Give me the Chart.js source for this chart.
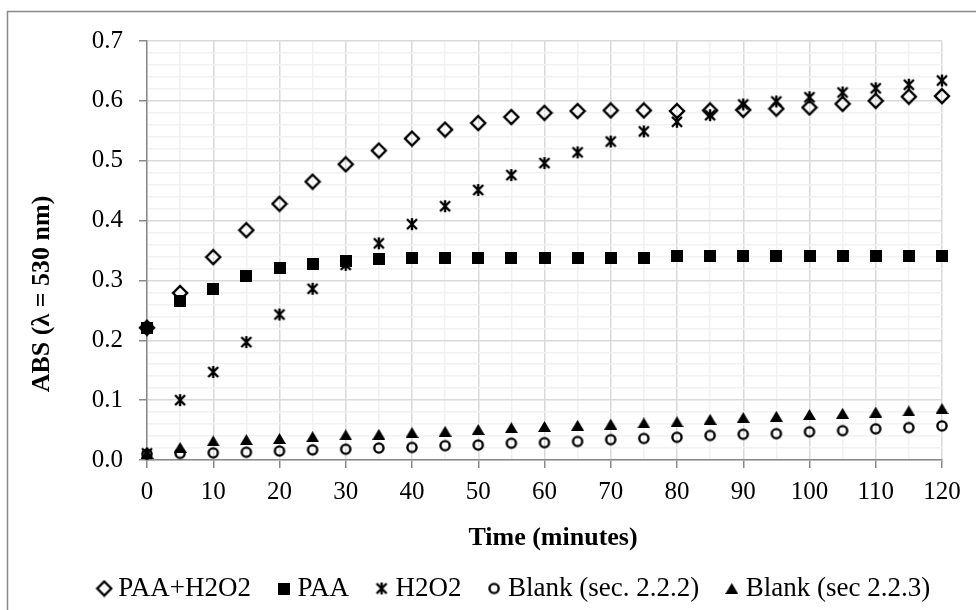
<!DOCTYPE html>
<html>
<head>
<meta charset="utf-8">
<style>
  html, body { margin: 0; padding: 0; background: #fff; }
  #wrap { width: 976px; height: 610px; }
</style>
</head>
<body>
<div id="wrap"><canvas id="chart" width="976" height="610"></canvas></div>
<script src="https://cdn.jsdelivr.net/npm/chart.js@4.4.1/dist/chart.umd.min.js"></script>
<script>
// absorbance readings every 5 minutes
const minutes = [0, 5, 10, 15, 20, 25, 30, 35, 40, 45, 50, 55, 60, 65, 70, 75, 80, 85, 90, 95, 100, 105, 110, 115, 120];

const paaH2o2 = [0.221, 0.279, 0.339, 0.384, 0.428, 0.465, 0.494, 0.517, 0.537, 0.552, 0.563, 0.573, 0.580,
  0.583, 0.584, 0.584, 0.583, 0.584, 0.585, 0.587, 0.589, 0.595, 0.600, 0.607, 0.608];
const paa = [0.221, 0.266, 0.286, 0.307, 0.320, 0.328, 0.333, 0.335, 0.337, 0.337, 0.337, 0.338, 0.338,
  0.338, 0.338, 0.338, 0.340, 0.340, 0.340, 0.340, 0.340, 0.340, 0.340, 0.340, 0.340];
const h2o2 = [0.011, 0.100, 0.147, 0.197, 0.243, 0.286, 0.326, 0.362, 0.394, 0.424, 0.451, 0.476, 0.496,
  0.514, 0.532, 0.549, 0.565, 0.576, 0.594, 0.599, 0.606, 0.614, 0.621, 0.627, 0.634];
const blank222 = [0.010, 0.011, 0.012, 0.013, 0.015, 0.017, 0.018, 0.020, 0.021, 0.024, 0.025, 0.028, 0.029,
  0.031, 0.034, 0.036, 0.038, 0.041, 0.043, 0.044, 0.047, 0.049, 0.052, 0.054, 0.057];
const blank223 = [0.011, 0.021, 0.032, 0.034, 0.036, 0.039, 0.042, 0.043, 0.046, 0.048, 0.051, 0.054, 0.056,
  0.058, 0.060, 0.062, 0.064, 0.068, 0.071, 0.073, 0.076, 0.078, 0.080, 0.082, 0.086];

const seriesNames = ['PAA+H2O2', 'PAA', 'H2O2', 'Blank (sec. 2.2.2)', 'Blank (sec 2.2.3)'];
const xTicks = [0, 10, 20, 30, 40, 50, 60, 70, 80, 90, 100, 110, 120];
const yTicks = [0.0, 0.1, 0.2, 0.3, 0.4, 0.5, 0.6, 0.7];

const FONT = '"Liberation Serif", "Times New Roman", serif';
Chart.defaults.font.family = FONT;
Chart.defaults.color = '#000';

// little canvases used as point styles, so the markers look like the office-style ones
function marker(w, h, draw) {
  const c = document.createElement('canvas');
  c.width = w; c.height = h;
  const g = c.getContext('2d');
  g.strokeStyle = '#000';
  g.fillStyle = '#000';
  draw(g, w / 2, h / 2);
  return c;
}

const diamond = marker(18, 18, (g, cx, cy) => {
  g.lineWidth = 2.4;
  g.beginPath();
  g.moveTo(cx, cy - 7); g.lineTo(cx + 7, cy); g.lineTo(cx, cy + 7); g.lineTo(cx - 7, cy);
  g.closePath();
  g.stroke();
});
const square = marker(12, 12, (g) => g.fillRect(0, 0, 12, 12));
const star = marker(14, 14, (g, cx, cy) => {
  g.lineWidth = 2.4;
  g.beginPath();
  g.moveTo(cx - 5, cy - 5); g.lineTo(cx + 5, cy + 5);
  g.moveTo(cx + 5, cy - 5); g.lineTo(cx - 5, cy + 5);
  g.moveTo(cx, cy - 6); g.lineTo(cx, cy + 6);
  g.stroke();
});
const circle = marker(14, 14, (g, cx, cy) => {
  g.lineWidth = 2.4;
  g.beginPath();
  g.arc(cx, cy, 4.6, 0, Math.PI * 2);
  g.stroke();
});
const triangle = marker(13, 11, (g) => {
  g.beginPath();
  g.moveTo(6.5, 0); g.lineTo(13, 11); g.lineTo(0, 11);
  g.closePath();
  g.fill();
});

const seriesValues = [paaH2o2, paa, h2o2, blank222, blank223];
const seriesMarkers = [diamond, square, star, circle, triangle];

const isMajorX = (v) => xTicks.includes(Math.round(v));
const isMajorY = (v) => yTicks.some((t) => Math.abs(t - v) < 1e-6);

// outer frame + white background
const frame = {
  id: 'frame',
  beforeDraw(chart) {
    const g = chart.ctx;
    g.save();
    g.fillStyle = '#fff';
    g.fillRect(0, 0, chart.width, chart.height);
    g.strokeStyle = '#898989';
    g.lineWidth = 1.5;
    g.strokeRect(7.5, 11.5, chart.width + 20, chart.height + 20);
    g.restore();
  }
};

// axis titles drawn by hand so they sit where they should
const axisTitles = {
  id: 'axisTitles',
  afterDraw(chart) {
    const g = chart.ctx;
    g.save();
    g.fillStyle = '#000';
    g.font = 'bold 26px ' + FONT;
    g.textAlign = 'center';
    g.textBaseline = 'middle';
    g.fillText('Time (minutes)', 553, 538);
    g.translate(42, 294);
    g.rotate(-Math.PI / 2);
    g.fillText('ABS (\u03bb = 530 nm)', 0, 0);
    g.restore();
  }
};

// push the legend row down under the x title and nudge it sideways
const legendPlace = {
  id: 'legendPlace',
  afterLayout(chart) {
    const lg = chart.legend;
    const dx = 517 - (lg.left + lg.right) / 2;
    lg.left += dx; lg.right += dx;
    const dy = 543 - lg.top;
    lg.top += dy; lg.bottom += dy;
  }
};

new Chart(document.getElementById('chart'), {
  type: 'scatter',
  data: {
    datasets: seriesNames.map((name, i) => ({
      label: name,
      data: minutes.map((t, k) => ({ x: t, y: seriesValues[i][k] })),
      pointStyle: seriesMarkers[i],
      pointRadius: 7,
      pointHoverRadius: 7,
      showLine: false,
      clip: false,
      order: -i
    }))
  },
  options: {
    responsive: false,
    animation: false,
    devicePixelRatio: 1,
    layout: { padding: { left: 8, right: 34, top: 41, bottom: 31 } },
    plugins: {
      tooltip: { enabled: false },
      legend: {
        position: 'bottom',
        labels: {
          usePointStyle: true,
          boxWidth: 1,
          boxHeight: 12,
          padding: 32,
          color: '#000',
          font: { size: 27 },
          sort: (a, b) => a.datasetIndex - b.datasetIndex
        }
      }
    },
    scales: {
      x: {
        type: 'linear',
        min: 0,
        max: 120,
        afterFit: (s) => { s.height = 50; },
        ticks: {
          stepSize: 5,
          autoSkip: false,
          maxRotation: 0,
          padding: 9,
          color: '#000',
          font: { size: 25 },
          callback: (v) => (isMajorX(v) ? String(v) : '')
        },
        grid: {
          color: (c) => (isMajorX(c.tick.value) ? '#d9d9d9' : '#f1f1f1'),
          lineWidth: 1.5,
          tickLength: 8,
          tickWidth: 1.5,
          tickColor: (c) => (isMajorX(c.tick.value) ? '#898989' : 'rgba(0,0,0,0)')
        },
        border: { color: '#898989', width: 1.5 }
      },
      y: {
        min: 0,
        max: 0.7,
        afterFit: (s) => { s.width = 139; },
        ticks: {
          stepSize: 0.02,
          autoSkip: false,
          padding: 16,
          color: '#000',
          font: { size: 25 },
          callback: (v) => (isMajorY(v) ? v.toFixed(1) : '')
        },
        grid: {
          color: (c) => (isMajorY(c.tick.value) ? '#d9d9d9' : '#f1f1f1'),
          lineWidth: 1.5,
          tickLength: 8,
          tickWidth: 1.5,
          tickColor: (c) => (isMajorY(c.tick.value) ? '#898989' : 'rgba(0,0,0,0)')
        },
        border: { color: '#898989', width: 1.5 }
      }
    }
  },
  plugins: [frame, axisTitles, legendPlace]
});
</script>
</body>
</html>
